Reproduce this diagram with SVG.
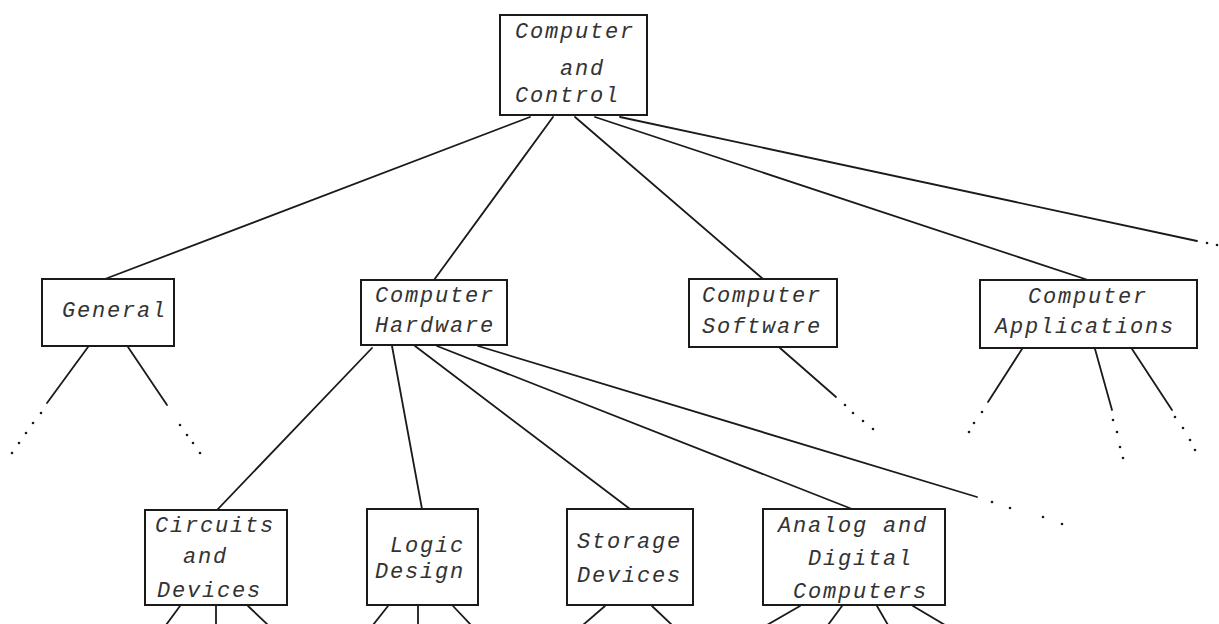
<svg xmlns="http://www.w3.org/2000/svg" width="1219" height="624" viewBox="0 0 1219 624">
<style>
.box{fill:none;stroke:#1a1a1a;stroke-width:2}
.ln{stroke:#1a1a1a;stroke-width:1.8;fill:none;stroke-linecap:round}
.dot{fill:#1a1a1a}
text{font-family:"Liberation Mono","DejaVu Sans Mono",monospace;font-style:italic;font-size:22px;letter-spacing:1.8px;fill:#333333}
</style>
<rect width="1219" height="624" fill="#ffffff"/>
<g id="connectors">
<line class="ln" x1="530" y1="117" x2="105" y2="279"/>
<line class="ln" x1="553" y1="117" x2="434" y2="280"/>
<line class="ln" x1="575" y1="117" x2="763" y2="279"/>
<line class="ln" x1="595" y1="117" x2="1088" y2="280"/>
<line class="ln" x1="620" y1="117" x2="1197" y2="241"/>
<line class="ln" x1="88" y1="347" x2="47" y2="403"/>
<line class="ln" x1="128" y1="347" x2="167" y2="405"/>
<line class="ln" x1="372" y1="348" x2="217" y2="510"/>
<line class="ln" x1="392" y1="346" x2="422" y2="509"/>
<line class="ln" x1="415" y1="346" x2="630" y2="509"/>
<line class="ln" x1="437" y1="346" x2="852" y2="509"/>
<line class="ln" x1="478" y1="346" x2="977" y2="497"/>
<line class="ln" x1="780" y1="348" x2="836" y2="397"/>
<line class="ln" x1="1022" y1="349" x2="988" y2="402"/>
<line class="ln" x1="1095" y1="349" x2="1112" y2="410"/>
<line class="ln" x1="1132" y1="349" x2="1172" y2="410"/>
<line class="ln" x1="180" y1="606" x2="166" y2="625"/>
<line class="ln" x1="216" y1="606" x2="216" y2="625"/>
<line class="ln" x1="248" y1="606" x2="268" y2="625"/>
<line class="ln" x1="388" y1="606" x2="373" y2="625"/>
<line class="ln" x1="418" y1="606" x2="418" y2="625"/>
<line class="ln" x1="453" y1="606" x2="471" y2="625"/>
<line class="ln" x1="605" y1="606" x2="583" y2="625"/>
<line class="ln" x1="652" y1="606" x2="672" y2="625"/>
<line class="ln" x1="800" y1="606" x2="767" y2="625"/>
<line class="ln" x1="842" y1="606" x2="828" y2="625"/>
<line class="ln" x1="877" y1="606" x2="888" y2="625"/>
<line class="ln" x1="913" y1="606" x2="945" y2="625"/>
<g class="dot">
<circle cx="41" cy="413" r="1.3"/><circle cx="33" cy="423" r="1.3"/><circle cx="26" cy="433" r="1.3"/><circle cx="19" cy="443" r="1.3"/><circle cx="12" cy="453" r="1.3"/>
<circle cx="180" cy="425" r="1.3"/><circle cx="187" cy="435" r="1.3"/><circle cx="193" cy="443" r="1.3"/><circle cx="200" cy="453" r="1.3"/>
<circle cx="845" cy="405" r="1.3"/><circle cx="853" cy="413" r="1.3"/><circle cx="863" cy="421" r="1.3"/><circle cx="873" cy="429" r="1.3"/>
<circle cx="982" cy="412" r="1.3"/><circle cx="974" cy="423" r="1.3"/><circle cx="969" cy="432" r="1.3"/>
<circle cx="1113" cy="420" r="1.3"/><circle cx="1117" cy="432" r="1.3"/><circle cx="1120" cy="447" r="1.3"/><circle cx="1123" cy="458" r="1.3"/>
<circle cx="1175" cy="417" r="1.3"/><circle cx="1183" cy="428" r="1.3"/><circle cx="1190" cy="440" r="1.3"/><circle cx="1195" cy="450" r="1.3"/>
<circle cx="992" cy="502" r="1.3"/><circle cx="1010" cy="508" r="1.3"/><circle cx="1043" cy="517" r="1.3"/><circle cx="1062" cy="524" r="1.3"/>
<circle cx="1207" cy="243" r="1.3"/><circle cx="1217" cy="245" r="1.3"/>
</g>
</g>
<g id="n-computer-control">
<rect class="box" x="500" y="15" width="147" height="100"/>
<text x="515" y="38">Computer</text><text x="560" y="75">and</text><text x="515" y="102">Control</text>
</g>
<g id="n-general">
<rect class="box" x="42" y="279" width="132" height="67"/>
<text x="62" y="317">General</text>
</g>
<g id="n-hardware">
<rect class="box" x="361" y="280" width="146" height="65"/>
<text x="375" y="302">Computer</text><text x="375" y="332">Hardware</text>
</g>
<g id="n-software">
<rect class="box" x="689" y="279" width="148" height="68"/>
<text x="702" y="302">Computer</text><text x="702" y="333">Software</text>
</g>
<g id="n-applications">
<rect class="box" x="980" y="280" width="217" height="68"/>
<text x="1028" y="303">Computer</text><text x="995" y="333">Applications</text>
</g>
<g id="n-circuits">
<rect class="box" x="145" y="510" width="142" height="95"/>
<text x="155" y="532">Circuits</text><text x="183" y="563">and</text><text x="157" y="597">Devices</text>
</g>
<g id="n-logic">
<rect class="box" x="367" y="509" width="111" height="96"/>
<text x="390" y="552">Logic</text><text x="375" y="578">Design</text>
</g>
<g id="n-storage">
<rect class="box" x="567" y="509" width="126" height="96"/>
<text x="577" y="548">Storage</text><text x="577" y="582">Devices</text>
</g>
<g id="n-analog">
<rect class="box" x="763" y="509" width="182" height="96"/>
<text x="778" y="532">Analog and</text><text x="808" y="565">Digital</text><text x="793" y="598">Computers</text>
</g>
</svg>
